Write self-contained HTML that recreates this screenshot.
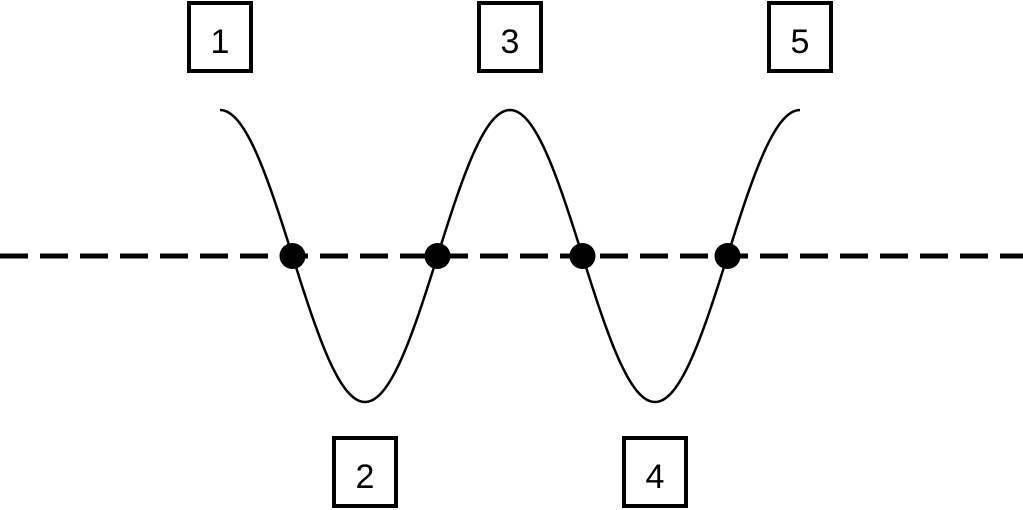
<!DOCTYPE html>
<html><head><meta charset="utf-8"><style>
html,body{margin:0;padding:0;background:#fff;width:1023px;height:510px;overflow:hidden}
text{font-family:"Liberation Sans",sans-serif;font-size:34px;fill:#000}
</style></head><body>
<svg id="chart" width="1023" height="510" viewBox="0 0 1023 510">
<line x1="0" y1="256" x2="1023" y2="256" stroke="#000" stroke-width="5" stroke-dasharray="28 12"/>
<g id="g"></g>
</svg>
<script>
const labels = ["1","2","3","4","5"];
const labelPhase = [0,1,2,3,4];
const crossings = [0.5,1.5,2.5,3.5];
const x0=220, half=145, cy=256, amp=146;
const xs = p => x0 + p*half;
const ys = p => cy - amp*Math.cos(Math.PI*p);
const ns="http://www.w3.org/2000/svg", g=document.getElementById('g');
let d="";
for(let i=0;i<=400;i++){const p=4*i/400;d+=(i?"L":"M")+xs(p).toFixed(2)+","+ys(p).toFixed(2);}
const path=document.createElementNS(ns,'path');
path.setAttribute('d',d);path.setAttribute('fill','none');path.setAttribute('stroke','#000');path.setAttribute('stroke-width','2.5');


g.appendChild(path);
crossings.forEach(p=>{
 const c=document.createElementNS(ns,'circle');
 c.setAttribute('cx',xs(p));c.setAttribute('cy',cy);c.setAttribute('r',13);
 
 
 g.appendChild(c);
});
labels.forEach((t,i)=>{
 const p=labelPhase[i], top=(p%2===0), cx=xs(p);
 const by = top?3:438;
 const r=document.createElementNS(ns,'rect');
 r.setAttribute('x',cx-31);r.setAttribute('y',by);r.setAttribute('width',62);r.setAttribute('height',68);
 r.setAttribute('fill','none');r.setAttribute('stroke','#000');r.setAttribute('stroke-width','4');
 
 
 g.appendChild(r);
 const tx=document.createElementNS(ns,'text');
 tx.setAttribute('x',cx);tx.setAttribute('y',by+50);tx.setAttribute('text-anchor','middle');
 tx.textContent=t;
 
 
 g.appendChild(tx);
});
</script>
</body></html>
